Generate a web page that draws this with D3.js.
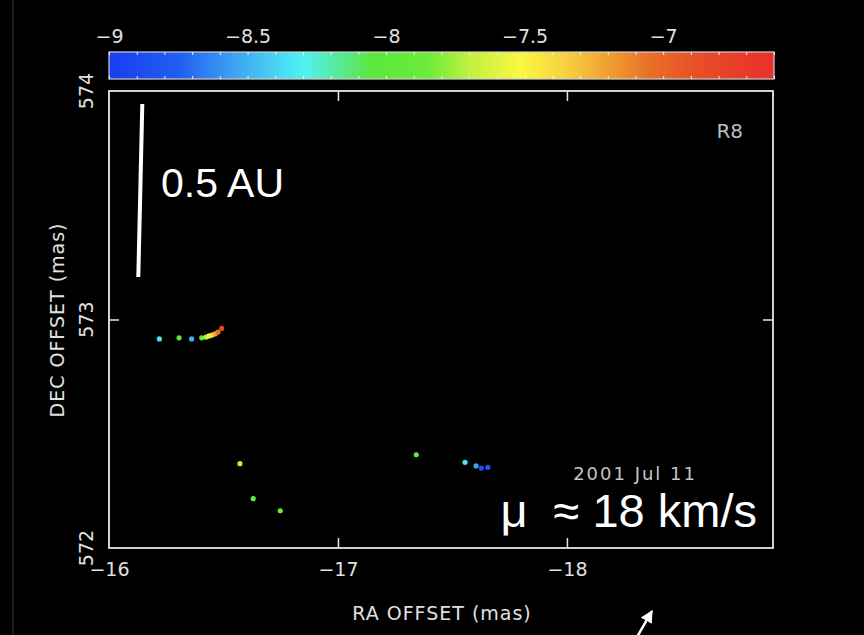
<!DOCTYPE html>
<html>
<head>
<meta charset="utf-8">
<script src="https://cdn.jsdelivr.net/npm/d3@7"></script>
<style>
  body { margin: 0; background: #000; }
  svg { display: block; }
</style>
</head>
<body>
<div class="displayArea"></div>
<script>
const width = 864;
const height = 635;

// maser spots: RA offset, DEC offset (mas), velocity (km/s)
var raOffset = [-16.22, -16.306, -16.361, -16.405, -16.424, -16.437, -16.45, -16.463, -16.476, -16.492,
    -16.572, -16.63, -16.748,
    -17.342, -17.555, -17.603, -17.626, -17.655];
var decOffset = [572.915, 572.92, 572.915, 572.92, 572.923, 572.928, 572.932, 572.937, 572.945, 572.961,
    572.369, 572.216, 572.163,
    572.408, 572.375, 572.359, 572.35, 572.353];
var velocity = [-8.35, -8.05, -8.5, -8.0, -7.7, -7.55, -7.4, -7.25, -7.05, -6.8,
    -7.7, -7.95, -7.9,
    -8.0, -8.35, -8.55, -8.85, -8.8];

var xTicks = [-16, -17, -18];
var yTicks = [572, 573, 574];
var cbarTicks = [-9, -8.5, -8, -7.5, -7];

// colour table for the velocity bar
var cStops = [-9, -8.75, -8.55, -8.3, -8.15, -8.05, -7.85, -7.7, -7.52, -7.35, -7.2, -7.05, -6.85, -6.6];
var cColors = ["#1a3cf2", "#1f5ef0", "#3ea2f2", "#50f2f2", "#58e88a", "#5ae83c", "#6cec3a", "#c0f040",
    "#f8f842", "#f8d040", "#f0a032", "#e87028", "#e84a28", "#e8302a"];

var box = { left: 109, right: 773, top: 91, bottom: 548 };
var cbar = { top: 52, bottom: 79, left: 109, right: 774 };

var xScale = d3.scaleLinear()
    .domain([-16, -18.9]) // RA grows to the left
    .range([box.left, box.right]);

var yScale = d3.scaleLinear()
    .domain([572, 574])
    .range([box.bottom, box.top]);

var cScale = d3.scaleLinear()
    .domain([-9, -6.6])
    .range([cbar.left, cbar.right]);

var color = d3.scaleLinear()
    .domain(cStops)
    .range(cColors)
    .clamp(true);

var svg = d3.select(".displayArea")
    .append("svg")
    .attr("width", width)
    .attr("height", height)
    .style("background", "#000");

// faint slide edge on the left
svg.append("line")
    .attr("x1", 13).attr("x2", 13)
    .attr("y1", 0).attr("y2", height)
    .attr("stroke", "#3a3a3a")
    .attr("stroke-width", 1);

// colour bar made of 1px strips
var strips = d3.range(cbar.left, cbar.right, 1);
svg.append("g")
    .selectAll("rect")
    .data(strips)
    .enter()
    .append("rect")
    .attr("x", function (d) { return d; })
    .attr("y", cbar.top)
    .attr("width", 1.2)
    .attr("height", cbar.bottom - cbar.top)
    .attr("fill", function (d) { return color(cScale.invert(d + 0.5)); });

svg.append("rect")
    .attr("x", cbar.left)
    .attr("y", cbar.top)
    .attr("width", cbar.right - cbar.left)
    .attr("height", cbar.bottom - cbar.top)
    .attr("fill", "none")
    .attr("stroke", "#cfcfcf")
    .attr("stroke-width", 1.2);

var cbarMinor = d3.range(-9, -6.6, 0.1);
var cAxisTop = d3.axisBottom(cScale).tickValues(cbarMinor).tickSize(3).tickFormat("");
var cAxisBot = d3.axisTop(cScale).tickValues(cbarMinor).tickSize(3).tickFormat("");

svg.append("g").attr("class", "cb").attr("transform", `translate(0,${cbar.top})`).call(cAxisTop);
svg.append("g").attr("class", "cb").attr("transform", `translate(0,${cbar.bottom})`).call(cAxisBot);
svg.selectAll(".cb .domain").remove();
svg.selectAll(".cb line").attr("stroke", "#f0f0f0").attr("stroke-width", 1);

svg.append("g")
    .attr("class", "cbl")
    .attr("transform", `translate(0,${cbar.top - 9})`)
    .call(d3.axisTop(cScale).tickValues(cbarTicks).tickSize(0).tickPadding(0)
        .tickFormat(function (d) { return d3.format("")(d).replace("-", "\u2212"); }));
svg.selectAll(".cbl .domain").remove();

// plot frame
svg.append("rect")
    .attr("x", box.left)
    .attr("y", box.top)
    .attr("width", box.right - box.left)
    .attr("height", box.bottom - box.top)
    .attr("fill", "none")
    .attr("stroke", "#e6e6e6")
    .attr("stroke-width", 1.8);

// inward ticks on all four sides
var xIn = xTicks.slice(1);
var yIn = [573];
svg.append("g").attr("class", "tk").attr("transform", `translate(0,${box.bottom})`)
    .call(d3.axisTop(xScale).tickValues(xIn).tickSize(10).tickFormat(""));
svg.append("g").attr("class", "tk").attr("transform", `translate(0,${box.top})`)
    .call(d3.axisBottom(xScale).tickValues(xIn).tickSize(10).tickFormat(""));
svg.append("g").attr("class", "tk").attr("transform", `translate(${box.left},0)`)
    .call(d3.axisRight(yScale).tickValues(yIn).tickSize(10).tickFormat(""));
svg.append("g").attr("class", "tk").attr("transform", `translate(${box.right},0)`)
    .call(d3.axisLeft(yScale).tickValues(yIn).tickSize(10).tickFormat(""));
svg.selectAll(".tk .domain").remove();
svg.selectAll(".tk line").attr("stroke", "#e6e6e6").attr("stroke-width", 1.5);

// tick labels
svg.append("g")
    .attr("class", "xl")
    .attr("transform", `translate(0,${box.bottom + 10})`)
    .call(d3.axisBottom(xScale).tickValues(xTicks).tickSize(0).tickPadding(0)
        .tickFormat(function (d) { return String(d).replace("-", "\u2212"); }));
svg.selectAll(".xl .domain").remove();
svg.selectAll(".xl text").attr("dy", "0.95em");

svg.append("g")
    .attr("class", "yl")
    .selectAll("text")
    .data(yTicks)
    .enter()
    .append("text")
    .attr("transform", function (d) { return `translate(93,${yScale(d)}) rotate(-90)`; })
    .attr("text-anchor", "middle")
    .text(function (d) { return d; });

svg.selectAll(".cbl text, .xl text, .yl text")
    .attr("fill", "#e0e0e0")
    .style("font-family", "DejaVu Sans")
    .style("font-size", "19px");

// axis titles
svg.append("text")
    .attr("x", 442)
    .attr("y", 620)
    .attr("text-anchor", "middle")
    .attr("fill", "#e0e0e0")
    .style("font-family", "DejaVu Sans")
    .style("font-size", "19px")
    .style("letter-spacing", "1px")
    .text("RA OFFSET (mas)");

svg.append("text")
    .attr("transform", "translate(64,320) rotate(-90)")
    .attr("text-anchor", "middle")
    .attr("fill", "#e0e0e0")
    .style("font-family", "DejaVu Sans")
    .style("font-size", "19px")
    .style("letter-spacing", "1px")
    .text("DEC OFFSET (mas)");

// maser spots
svg.append("g")
    .selectAll("circle")
    .data(velocity)
    .enter()
    .append("circle")
    .attr("cx", function (d, i) { return xScale(raOffset[i]); })
    .attr("cy", function (d, i) { return yScale(decOffset[i]); })
    .attr("r", 2.6)
    .attr("fill", function (d) { return color(d); });

// 0.5 AU scale bar
svg.append("line")
    .attr("x1", 142.3).attr("y1", 104)
    .attr("x2", 138.3).attr("y2", 277)
    .attr("stroke", "#fff")
    .attr("stroke-width", 4);

svg.append("text")
    .attr("x", 161)
    .attr("y", 197)
    .attr("fill", "#fff")
    .style("font-family", "Liberation Sans, Arial")
    .style("font-size", "41px")
    .text("0.5 AU");

svg.append("text")
    .attr("x", 743)
    .attr("y", 138)
    .attr("text-anchor", "end")
    .attr("fill", "#bdbdbd")
    .style("font-family", "DejaVu Sans")
    .style("font-size", "20px")
    .text("R8");

svg.append("text")
    .attr("x", 697)
    .attr("y", 480)
    .attr("text-anchor", "end")
    .attr("fill", "#c4c4c4")
    .style("font-family", "DejaVu Sans")
    .style("font-size", "18px")
    .style("letter-spacing", "2px")
    .text("2001 Jul 11");

svg.append("text")
    .attr("x", 757)
    .attr("y", 527)
    .attr("text-anchor", "end")
    .attr("fill", "#fff")
    .style("font-family", "Liberation Sans, Arial")
    .style("font-size", "47px")
    .style("white-space", "pre")
    .text("\u03bc  \u2248 18 km/s");

// little pointer arrow at the bottom
svg.append("defs").append("marker")
    .attr("id", "head")
    .attr("viewBox", "0 0 10 10")
    .attr("refX", 9).attr("refY", 5)
    .attr("markerWidth", 5).attr("markerHeight", 5)
    .attr("orient", "auto")
    .append("path")
    .attr("d", "M0,0L10,5L0,10z")
    .attr("fill", "#fff");

svg.append("line")
    .attr("x1", 637).attr("y1", 637)
    .attr("x2", 652).attr("y2", 611)
    .attr("stroke", "#fff")
    .attr("stroke-width", 2.5)
    .attr("marker-end", "url(#head)");
</script>
</body>
</html>
